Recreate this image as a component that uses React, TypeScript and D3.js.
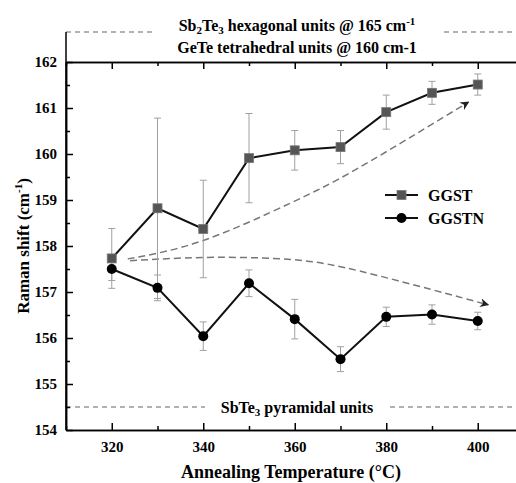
import { useEffect, useRef } from 'react';
import * as d3 from 'd3';

const temps = [320, 330, 340, 350, 360, 370, 380, 390, 400];
const ggst = [157.73, 158.82, 158.37, 159.91, 160.08, 160.15, 160.91, 161.33, 161.51];
const ggstErr = [0.65, 1.96, 1.06, 0.97, 0.43, 0.36, 0.37, 0.25, 0.23];
const ggstn = [157.5, 157.09, 156.04, 157.19, 156.41, 155.54, 156.46, 156.51, 156.37];
const ggstnErr = [0.25, 0.28, 0.31, 0.29, 0.43, 0.27, 0.21, 0.21, 0.19];

// guide curves (dashed arrows)
const upperGuide: [number, number][] = [
  [323.5, 157.72], [340, 158.12], [359, 158.93], [374, 159.7], [398, 161.13],
];
const lowerGuide: [number, number][] = [
  [324, 157.68], [336, 157.74], [349, 157.75], [362, 157.68], [374, 157.46], [390, 157.05], [402.3, 156.72],
];

const xMajor = [320, 340, 360, 380, 400];
const xMinor = [310, 330, 350, 370, 390];
const yMajor = [154, 155, 156, 157, 158, 159, 160, 161, 162];
const yMinor = [154.5, 155.5, 156.5, 157.5, 158.5, 159.5, 160.5, 161.5];

const topBandValue = 162.65; // dashed line of the upper label band
const pyramidalValue = 154.5;

const FONT = "'Liberation Serif', 'DejaVu Serif', serif";

export default function App() {
  const ref = useRef<SVGSVGElement | null>(null);

  useEffect(() => {
    document.body.style.margin = '0';
    if (!ref.current) return;
    const svg = d3.select(ref.current);
    svg.selectAll('*').remove();

    const x = d3.scaleLinear().domain([310, 410]).range([66, 523.5]);
    const y = d3.scaleLinear().domain([154, 162]).range([430, 62]);
    const left = x(310);
    const right = 516;

    svg.append('defs').append('marker')
      .attr('id', 'arr')
      .attr('viewBox', '0 0 10 10')
      .attr('refX', 9).attr('refY', 5)
      .attr('markerWidth', 9).attr('markerHeight', 9)
      .attr('markerUnits', 'userSpaceOnUse')
      .attr('orient', 'auto')
      .append('path')
      .attr('d', 'M0,0 L10,5 L0,10 L3,5 Z')
      .attr('fill', '#222');

    // upper band: dashed line + left border
    const yTop = y(topBandValue);
    svg.append('line')
      .attr('x1', left).attr('x2', right).attr('y1', yTop).attr('y2', yTop)
      .attr('stroke', '#999').attr('stroke-width', 1.5).attr('stroke-dasharray', '5,4');
    svg.append('line')
      .attr('x1', left).attr('x2', left).attr('y1', yTop).attr('y2', y(154))
      .attr('stroke', '#000').attr('stroke-width', 1.5);

    // pyramidal dashed line
    svg.append('line')
      .attr('x1', left).attr('x2', right).attr('y1', y(pyramidalValue)).attr('y2', y(pyramidalValue))
      .attr('stroke', '#999').attr('stroke-width', 1.5).attr('stroke-dasharray', '5,4');

    const styleAxis = (g: d3.Selection<SVGGElement, unknown, null, undefined>) => {
      g.attr('font-family', null).attr('font-size', null);
      g.selectAll('path.domain').attr('stroke', '#000').attr('stroke-width', 1.5);
      g.selectAll('.tick line').attr('stroke', '#000').attr('stroke-width', 1.5);
      g.selectAll('text')
        .style('font-family', FONT).style('font-weight', 'bold')
        .style('font-size', '15px').attr('fill', '#000');
    };

    // left axis
    const gl = svg.append('g').attr('transform', `translate(${left},0)`)
      .call(d3.axisLeft(y).tickValues(yMajor).tickSizeInner(-7).tickSizeOuter(0).tickPadding(9).tickFormat(d3.format('d')));
    styleAxis(gl);
    const glm = svg.append('g').attr('transform', `translate(${left},0)`)
      .call(d3.axisLeft(y).tickValues(yMinor).tickSizeInner(-4).tickSizeOuter(0).tickFormat(() => ''));
    styleAxis(glm);

    // bottom axis
    const gb = svg.append('g').attr('transform', `translate(0,${y(154)})`)
      .call(d3.axisBottom(x).tickValues(xMajor).tickSizeInner(-7).tickSizeOuter(0).tickPadding(11).tickFormat(d3.format('d')));
    styleAxis(gb);
    const gbm = svg.append('g').attr('transform', `translate(0,${y(154)})`)
      .call(d3.axisBottom(x).tickValues(xMinor).tickSizeInner(-4).tickSizeOuter(0).tickFormat(() => ''));
    styleAxis(gbm);

    // top axis
    const gt = svg.append('g').attr('transform', `translate(0,${y(162)})`)
      .call(d3.axisTop(x).tickValues(xMajor).tickSizeInner(-7).tickSizeOuter(0).tickFormat(() => ''));
    styleAxis(gt);
    const gtm = svg.append('g').attr('transform', `translate(0,${y(162)})`)
      .call(d3.axisTop(x).tickValues(xMinor).tickSizeInner(-4).tickSizeOuter(0).tickFormat(() => ''));
    styleAxis(gtm);

    const label = (sel: d3.Selection<SVGTextElement, unknown, null, undefined>, size: number) =>
      sel.style('font-family', FONT).style('font-weight', 'bold').style('font-size', `${size}px`);

    // top labels
    const tx = 297;
    svg.append('rect').attr('x', 152).attr('y', yTop - 10).attr('width', 292).attr('height', 20).attr('fill', '#fff');
    const t1 = label(svg.append('text').attr('x', tx).attr('y', 31).attr('text-anchor', 'middle'), 16);
    t1.append('tspan').text('Sb');
    t1.append('tspan').style('font-size', '11px').attr('dy', 3).text('2');
    t1.append('tspan').attr('dy', -3).text('Te');
    t1.append('tspan').style('font-size', '11px').attr('dy', 3).text('3');
    t1.append('tspan').attr('dy', -3).text(' hexagonal units @ 165 cm');
    t1.append('tspan').style('font-size', '11px').attr('dy', -6).text('-1');
    label(svg.append('text').attr('x', tx).attr('y', 53).attr('text-anchor', 'middle'), 16)
      .text('GeTe tetrahedral units @ 160 cm-1');

    // bottom label
    svg.append('rect').attr('x', 205).attr('y', y(pyramidalValue) - 8).attr('width', 183).attr('height', 16).attr('fill', '#fff');
    const t3 = label(svg.append('text').attr('x', 297).attr('y', y(pyramidalValue) + 6).attr('text-anchor', 'middle'), 16);
    t3.append('tspan').text('SbTe');
    t3.append('tspan').style('font-size', '11px').attr('dy', 3).text('3');
    t3.append('tspan').attr('dy', -3).text(' pyramidal units');

    // guide curves
    const guide = d3.line<[number, number]>()
      .x((d) => x(d[0])).y((d) => y(d[1]))
      .curve(d3.curveNatural);
    [upperGuide, lowerGuide].forEach((pts) => {
      svg.append('path')
        .attr('d', guide(pts) as string)
        .attr('fill', 'none')
        .attr('stroke', '#777').attr('stroke-width', 1.5)
        .attr('stroke-dasharray', '7,4')
        .attr('marker-end', 'url(#arr)');
    });

    // error bars
    const drawErr = (vals: number[], errs: number[], color: string) => {
      temps.forEach((t, i) => {
        const cx = x(t);
        const y0 = y(vals[i] - errs[i]);
        const y1 = y(vals[i] + errs[i]);
        const g = svg.append('g').attr('stroke', color).attr('stroke-width', 1);
        g.append('line').attr('x1', cx).attr('x2', cx).attr('y1', y0).attr('y2', y1);
        g.append('line').attr('x1', cx - 3.5).attr('x2', cx + 3.5).attr('y1', y0).attr('y2', y0);
        g.append('line').attr('x1', cx - 3.5).attr('x2', cx + 3.5).attr('y1', y1).attr('y2', y1);
      });
    };
    drawErr(ggst, ggstErr, '#a0a0a0');
    drawErr(ggstn, ggstnErr, '#a0a0a0');

    const line = d3.line<number>().x((_, i) => x(temps[i])).y((d) => y(d));
    svg.append('path').attr('d', line(ggst) as string)
      .attr('fill', 'none').attr('stroke', '#111').attr('stroke-width', 2);
    svg.append('path').attr('d', line(ggstn) as string)
      .attr('fill', 'none').attr('stroke', '#111').attr('stroke-width', 2);

    svg.append('g').selectAll('rect').data(ggst).join('rect')
      .attr('x', (_, i) => x(temps[i]) - 4.5)
      .attr('y', (d) => y(d) - 4.5)
      .attr('width', 9).attr('height', 9)
      .attr('fill', '#555').attr('stroke', '#777').attr('stroke-width', 0.8);
    svg.append('g').selectAll('circle').data(ggstn).join('circle')
      .attr('cx', (_, i) => x(temps[i]))
      .attr('cy', (d) => y(d))
      .attr('r', 5)
      .attr('fill', '#000');

    // legend
    const lg = svg.append('g').attr('transform', 'translate(385,195)');
    [
      { label: 'GGST', square: true },
      { label: 'GGSTN', square: false },
    ].forEach((item, i) => {
      const row = lg.append('g').attr('transform', `translate(0,${i * 23})`);
      row.append('line').attr('x1', 0).attr('x2', 33).attr('stroke', '#111').attr('stroke-width', 2);
      if (item.square) {
        row.append('rect').attr('x', 12).attr('y', -4.5).attr('width', 9).attr('height', 9)
          .attr('fill', '#555').attr('stroke', '#777').attr('stroke-width', 0.8);
      } else {
        row.append('circle').attr('cx', 16.5).attr('cy', 0).attr('r', 5).attr('fill', '#000');
      }
      label(row.append('text').attr('x', 43).attr('y', 5.5), 16).text(item.label);
    });

    // axis titles
    label(svg.append('text').attr('x', 291).attr('y', 478).attr('text-anchor', 'middle'), 18)
      .text('Annealing Temperature (°C)');
    const yt = label(svg.append('text')
      .attr('transform', 'translate(29,246) rotate(-90)')
      .attr('text-anchor', 'middle'), 17);
    yt.append('tspan').text('Raman shift (cm');
    yt.append('tspan').style('font-size', '11px').attr('dy', -7).text('-1');
    yt.append('tspan').attr('dy', 7).text(')');
  }, []);

  return <svg ref={ref} width={516} height={483} style={{ display: 'block', overflow: 'hidden' }} />;
}
